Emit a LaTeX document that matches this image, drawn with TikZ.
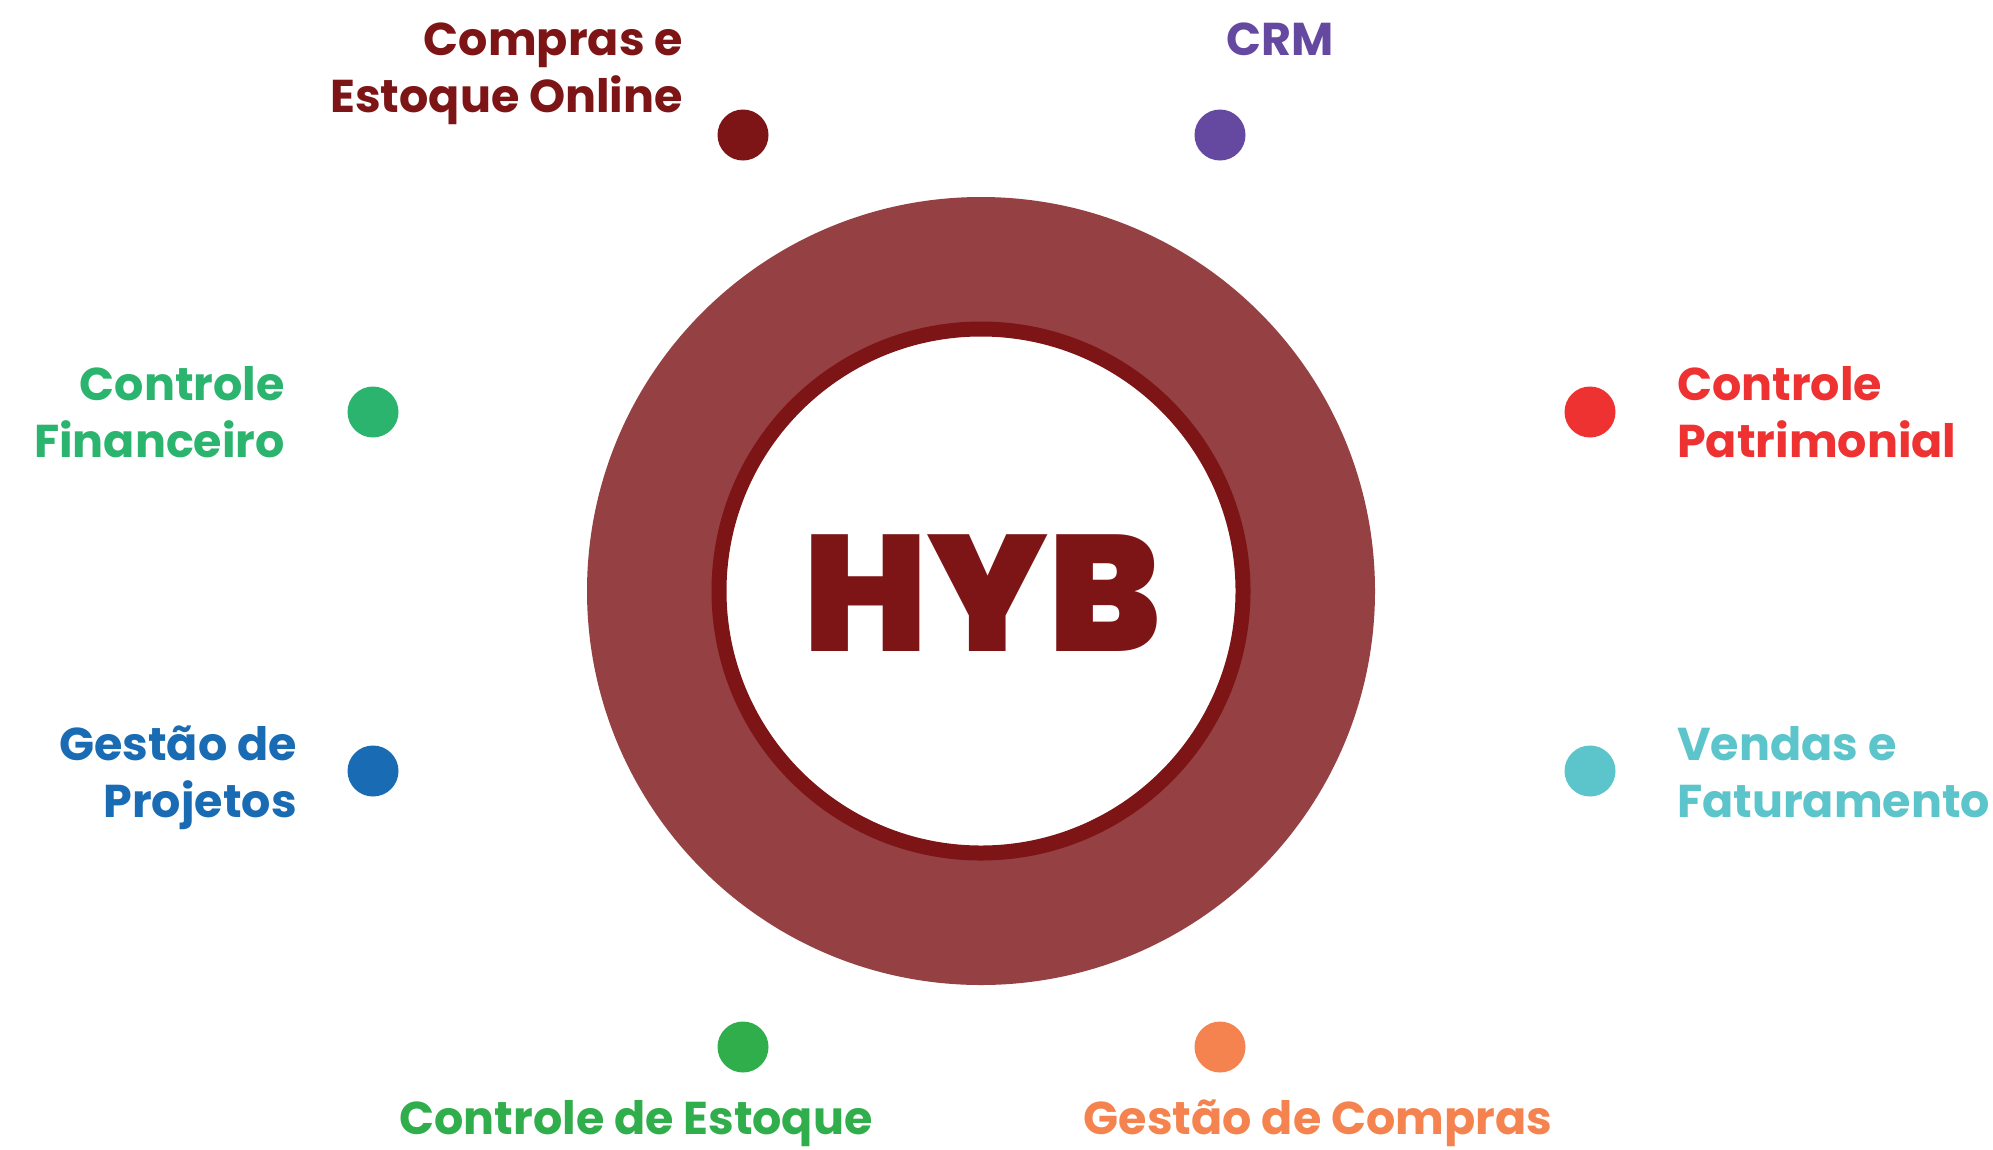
\documentclass[tikz,border=0pt]{standalone}
\usepackage{fontspec}
\setmainfont{Poppins}
\newfontfamily\hybfont{Poppins Black}
\definecolor{ringbg}{HTML}{954043}
\definecolor{darkred}{HTML}{7D1416}
\definecolor{crmc}{HTML}{6549A0}
\definecolor{finc}{HTML}{2AB46E}
\definecolor{patc}{HTML}{EE3232}
\definecolor{projc}{HTML}{196BB4}
\definecolor{vendc}{HTML}{5BC5CB}
\definecolor{estc}{HTML}{31AE4C}
\definecolor{compc}{HTML}{F4834F}
\tikzset{
  dot/.style={circle, inner sep=0pt, minimum size=51pt},
  lbl/.style={inner sep=0pt, font=\fontsize{46}{57}\selectfont\bfseries},
}
\begin{document}
\begin{tikzpicture}[x=1pt,y=-1pt]
\useasboundingbox (0,0) rectangle (1993,1149);
\fill[white] (0,0) rectangle (1993,1149);
% central circles
\node[circle, fill=ringbg, minimum size=788pt, inner sep=0pt] (outer) at (981,591) {};
\node[circle, fill=white, draw=darkred, line width=15pt, minimum size=524pt, inner sep=0pt] (inner) at (981,591) {};
\node[inner sep=0pt, anchor=base, text=darkred, font=\hybfont\fontsize{165}{165}\selectfont] (hyb) at (982,651) {HYB};
% dots
\node[dot, fill=darkred] (d1) at (743,135) {};
\node[dot, fill=crmc] (d2) at (1220,135) {};
\node[dot, fill=finc] (d3) at (373,412) {};
\node[dot, fill=patc] (d4) at (1590,412) {};
\node[dot, fill=projc] (d5) at (373,771) {};
\node[dot, fill=vendc] (d6) at (1590,771) {};
\node[dot, fill=estc] (d7) at (743,1047) {};
\node[dot, fill=compc] (d8) at (1220,1047) {};
% labels (base anchor = last line's baseline)
\node[lbl, text=darkred, anchor=base east, align=right] (t1) at (683,112) {Compras e\\Estoque Online};
\node[lbl, text=crmc, anchor=base west] (t2) at (1226,55) {CRM};
\node[lbl, text=finc, anchor=base east, align=right] (t3) at (285,457) {Controle\\Financeiro};
\node[lbl, text=patc, anchor=base west, align=left] (t4) at (1677,457) {Controle\\Patrimonial};
\node[lbl, text=projc, anchor=base east, align=right] (t5) at (297,817) {Gestão de\\Projetos};
\node[lbl, text=vendc, anchor=base west, align=left] (t6) at (1677,817) {Vendas e\\Faturamento};
\node[lbl, text=estc, anchor=base] (t7) at (636,1134) {Controle de Estoque};
\node[lbl, text=compc, anchor=base] (t8) at (1318,1134) {Gestão de Compras};
\end{tikzpicture}
\end{document}
